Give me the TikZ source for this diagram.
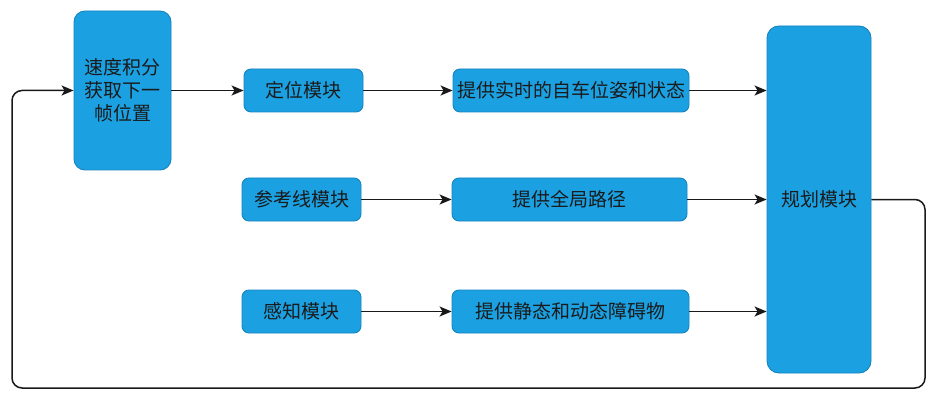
\documentclass[tikz,border=0pt]{standalone}
\usepackage{fontspec}
\setmainfont{Noto Sans CJK SC}
\usetikzlibrary{arrows.meta}
\definecolor{boxfill}{HTML}{1BA1E2}
\definecolor{boxline}{HTML}{1583C0}
\definecolor{txt}{HTML}{1A1A1A}
\tikzset{
  box/.style={draw=boxline, line width=0.9pt, fill=boxfill, rounded corners=7pt,
    inner sep=0pt, align=center, text=txt,
    font=\fontsize{19pt}{23pt}\selectfont},
  conn/.style={draw=black!90, line width=1.5pt, -{Stealth[length=12pt,width=10pt,inset=3pt]}},
}
\begin{document}
\begin{tikzpicture}[x=1pt,y=1pt]
\useasboundingbox (0,0) rectangle (941,402);
\node[box, rounded corners=11pt, minimum width=97pt, minimum height=159pt] (spd) at (122.5,311.5) {速度积分\\获取下一\\帧位置};
\node[box, minimum width=119pt, minimum height=43pt] (loc) at (303.5,311.5) {定位模块};
\node[box, minimum width=236pt, minimum height=43pt] (real) at (571,311.5) {提供实时的自车位姿和状态};
\node[box, minimum width=119pt, minimum height=43pt] (ref) at (301.5,202.5) {参考线模块};
\node[box, minimum width=235pt, minimum height=43pt] (glob) at (569.5,202.5) {提供全局路径};
\node[box, minimum width=119pt, minimum height=43pt] (perc) at (301.5,90.5) {感知模块};
\node[box, minimum width=237pt, minimum height=43pt] (obs) at (570.5,90.5) {提供静态和动态障碍物};
\node[box, rounded corners=12pt, minimum width=104pt, minimum height=347pt] (plan) at (819,202.5) {规划模块};
\coordinate (r1) at (925,202.5);
\coordinate (r2) at (925,14);
\coordinate (l1) at (12,14);
\coordinate (l2) at (12,311.5);
\draw[conn] (spd.east) -- (loc.west);
\draw[conn] (loc.east) -- (real.west);
\draw[conn] (ref.east) -- (glob.west);
\draw[conn] (perc.east) -- (obs.west);
\draw[conn] (real.east) -- (plan.west |- real.east);
\draw[conn] (glob.east) -- (plan.west |- glob.east);
\draw[conn] (obs.east) -- (plan.west |- obs.east);
\draw[conn, rounded corners=10pt] (plan.east) -- (r1) -- (r2) -- (l1) -- (l2) -- (spd.west);
\end{tikzpicture}
\end{document}
